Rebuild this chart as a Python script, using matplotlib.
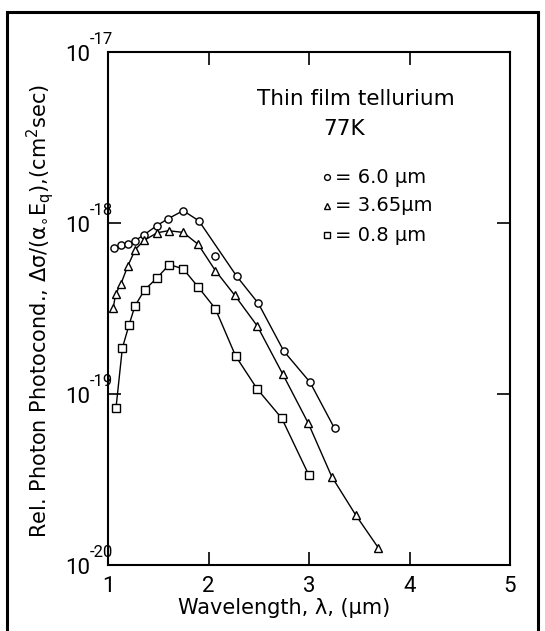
import matplotlib
matplotlib.use("Agg")
import matplotlib.pyplot as plt
import matplotlib.ticker as mticker
from matplotlib.patches import Rectangle

# values (x in um, y as log10 of the photoconductivity)
wl_60 = [1.063, 1.132, 1.202, 1.268, 1.358, 1.487, 1.598, 1.748, 1.904, 2.068, 2.280, 2.496, 2.750, 3.010, 3.254]
lg_60 = [-18.144, -18.130, -18.120, -18.104, -18.069, -18.015, -17.975, -17.928, -17.987, -18.191, -18.311, -18.470, -18.750, -18.931, -19.201]
off_line_60 = [2.068]  # marker that the hand-drawn curve misses

wl_365 = [1.052, 1.077, 1.129, 1.198, 1.271, 1.358, 1.490, 1.602, 1.748, 1.897, 2.068, 2.259, 2.485, 2.739, 2.993, 3.226, 3.463, 3.689]
lg_365 = [-18.496, -18.414, -18.355, -18.250, -18.156, -18.102, -18.057, -18.045, -18.055, -18.125, -18.278, -18.421, -18.602, -18.884, -19.171, -19.483, -19.706, -19.899]

wl_08 = [1.080, 1.143, 1.209, 1.268, 1.365, 1.490, 1.609, 1.748, 1.897, 2.068, 2.270, 2.485, 2.729, 3.000]
lg_08 = [-19.079, -18.731, -18.597, -18.485, -18.391, -18.320, -18.243, -18.268, -18.374, -18.501, -18.778, -18.971, -19.142, -19.476]

x_ticks = [1, 2, 3, 4, 5]
y_exps = [-20, -19, -18, -17]
legend_labels = ["= 6.0 μm", "= 3.65μm", "= 0.8 μm"]

plt.rcParams["font.family"] = ["DejaVu Sans"]
plt.rcParams["mathtext.fontset"] = "dejavusans"
NUM_FONT = "Roboto"  # narrower digits, closer to the scan

fig = plt.figure(figsize=(5.45, 6.31), dpi=100)
ax = fig.add_axes([108 / 545, 1 - 565 / 631, 402 / 545, 513 / 631])

# outer frame of the scanned figure
fig.patches.append(Rectangle((7 / 545, -0.05), 531 / 545, (631 - 12) / 631 + 0.05,
                             transform=fig.transFigure, fill=False, lw=2.2, ec="black"))

def curve(wl, lg, skip=()):
    pts = [(x, 10 ** y) for x, y in zip(wl, lg) if x not in skip]
    return [p[0] for p in pts], [p[1] for p in pts]

mk = dict(ls="none", mfc="white", mec="black", mew=1.0, zorder=3)

for wl, lg, m, ms, skip in [(wl_60, lg_60, "o", 5.2, off_line_60),
                            (wl_365, lg_365, "^", 5.5, ()),
                            (wl_08, lg_08, "s", 5.6, ())]:
    lx, ly = curve(wl, lg, skip)
    ax.plot(lx, ly, color="black", lw=1.0, zorder=2)
    ax.plot(wl, [10 ** v for v in lg], marker=m, ms=ms, **mk)

ax.set_yscale("log")
ax.set_xlim(1, 5)
ax.set_ylim(10.0 ** y_exps[0], 10.0 ** y_exps[-1])
ax.set_xticks(x_ticks)
ax.set_xticklabels([str(t) for t in x_ticks], fontfamily=NUM_FONT)
ax.set_yticks([10.0 ** e for e in y_exps])
ax.yaxis.set_minor_locator(mticker.NullLocator())
ax.xaxis.set_minor_locator(mticker.NullLocator())

ax.tick_params(axis="both", which="major", direction="in", length=9.5, width=1.2,
               top=True, right=True, labelsize=16)
ax.tick_params(axis="x", pad=8)
ax.tick_params(axis="y", labelleft=False)
for s in ax.spines.values():
    s.set_linewidth(1.5)

# decade labels drawn as "10" with a large raised exponent, as in the original
for e in y_exps:
    ax.annotate("10", xy=(0, 10.0 ** e), xycoords=("axes fraction", "data"),
                xytext=(-13, -2.2), textcoords="offset points", fontfamily=NUM_FONT,
                ha="right", va="center", fontsize=16)
    ax.annotate(f"-{abs(e)}", xy=(0, 10.0 ** e), xycoords=("axes fraction", "data"),
                xytext=(-13.5, 9), textcoords="offset points", fontfamily=NUM_FONT,
                ha="left", va="center", fontsize=12)

ax.set_xlabel("Wavelength, λ, (μm)", fontsize=15)
ax.xaxis.set_label_coords(0.438, -0.065)
ax.set_ylabel(r"Rel. Photon Photocond., $\mathrm{\Delta\sigma/(\alpha_{\circ}E_q)}$,(cm$^2$sec)",
              fontsize=15)
ax.yaxis.set_label_coords(-0.129, 0.495)

ax.text(0.617, 0.909, "Thin film tellurium", transform=ax.transAxes, ha="center", va="center", fontsize=15.5)
ax.text(0.587, 0.850, "77K", transform=ax.transAxes, ha="center", va="center", fontsize=15.5)

leg_y = [0.756, 0.700, 0.643]
for lab, yy, m in zip(legend_labels, leg_y, ["o", "^", "s"]):
    ax.plot([0.545], [yy], marker=m, ms=4.2, transform=ax.transAxes, clip_on=False, **mk)
    ax.text(0.565, yy, lab, transform=ax.transAxes, ha="left", va="center", fontsize=14)

fig.savefig("out.png", dpi=100, facecolor="white")
